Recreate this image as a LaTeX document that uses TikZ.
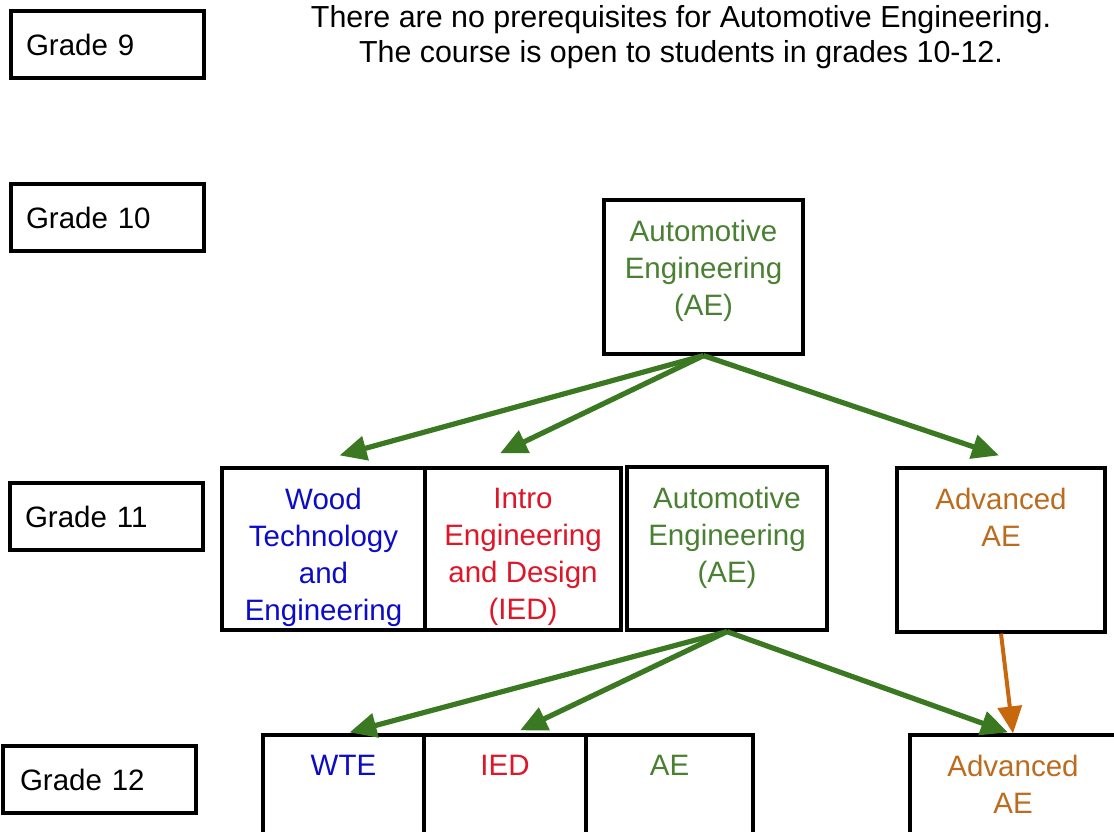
\documentclass[tikz,border=0pt]{standalone}
\usepackage{fontspec}
\setmainfont{Liberation Sans}
\usetikzlibrary{arrows.meta, positioning}
\definecolor{aegreen}{RGB}{58,120,34}
\definecolor{aetext}{RGB}{74,128,50}
\definecolor{wteblue}{RGB}{12,12,200}
\definecolor{iedred}{RGB}{222,22,40}
\definecolor{advbrown}{RGB}{188,108,30}
\definecolor{advarrow}{RGB}{200,104,14}
\tikzset{> = { Triangle[length = 27pt, width = 24pt] }}
\tikzset{
	grade/.style = {draw, line width = 3.4pt, minimum height = 67pt, text width = 163pt, inner xsep = 15pt, align = left},
	course/.style = {draw, line width = 3.2pt},
	ctext/.style = {inner sep = 0pt, outer sep = 0pt, align = center},
	flow/.style = {->, line width = 5.2pt, aegreen},
}

\begin{document}
\begin{tikzpicture}[x = 1pt, y = -1pt, font = \fontsize{29.5}{37}\selectfont]
	\useasboundingbox (0, 0) rectangle (1114, 832);
	\clip (0, 0) rectangle (1114, 832);

	% grade labels
	\node [grade] (g9) at (107.5, 44.5) {Grade 9};
	\node [grade] (g10) at (107.5, 217.5) {Grade 10};
	\node [grade] (g11) at (106.5, 516.5) {Grade 11};
	\node [grade, inner xsep = 17pt, text width = 159pt] (g12) at (99.5, 779.5) {Grade 12};

	\node [align = center, font = \fontsize{30.4}{35}\selectfont] (note) at (681, 37) {There are no prerequisites for Automotive Engineering.\\The course is open to students in grades 10-12.};

	% grade 10
	\node [course, minimum width = 199pt, minimum height = 154pt] (ae10) at (703.5, 277) {};
	\node [ctext, text = aetext, below = 22pt of ae10.north] (ae10txt) {Automotive\\Engineering\\(AE)};

	% grade 11
	\node [course, minimum width = 203pt, minimum height = 162pt] (wood) at (323.5, 549) {};
	\node [course, minimum width = 196pt, minimum height = 162pt] (ied11) at (523, 549) {};
	\node [course, minimum width = 200pt, minimum height = 163pt] (ae11) at (727, 548.5) {};
	\node [course, minimum width = 208pt, minimum height = 164pt] (adv11) at (1001, 550) {};
	\node [ctext, text = wteblue, below = 22pt of wood.north] (woodtxt) {Wood\\Technology\\and\\Engineering};
	\node [ctext, text = iedred, below = 22pt of ied11.north] (ied11txt) {Intro\\Engineering\\and Design\\(IED)};
	\node [ctext, text = aetext, below = 22pt of ae11.north] (ae11txt) {Automotive\\Engineering\\(AE)};
	\node [ctext, text = advbrown, below = 22pt of adv11.north] (adv11txt) {Advanced\\AE};

	% grade 12
	\node [course, minimum width = 161pt, minimum height = 165pt] (wte) at (343.5, 817.5) {};
	\node [course, minimum width = 162pt, minimum height = 165pt] (ied12) at (505, 817.5) {};
	\node [course, minimum width = 167pt, minimum height = 165pt] (ae12) at (669.5, 817.5) {};
	\node [course, minimum width = 206pt, minimum height = 165pt] (adv12) at (1013, 817.5) {};
	\node [ctext, text = wteblue, below = 22pt of wte.north] (wtetxt) {WTE};
	\node [ctext, text = iedred, below = 22pt of ied12.north] (ied12txt) {IED};
	\node [ctext, text = aetext, below = 22pt of ae12.north] (ae12txt) {AE};
	\node [ctext, text = advbrown, below = 22pt of adv12.north] (adv12txt) {Advanced\\AE};

	\draw [flow] (ae10.south) -- ([xshift = 16pt, yshift = 11pt] wood.north);
	\draw [flow] (ae10.south) -- ([xshift = -23pt, yshift = 13pt] ied11.north);
	\draw [flow] (ae10.south) -- ([xshift = -2pt, yshift = 11pt] adv11.north);

	\draw [flow] (ae11.south) -- ([xshift = 6pt, yshift = 1pt] wte.north);
	\draw [flow] (ae11.south) -- ([xshift = 15pt, yshift = 3pt] ied12.north);
	\draw [flow] (ae11.south) -- ([xshift = -5pt, yshift = 1pt] adv12.north);
	\draw [->, line width = 4pt, advarrow] (adv11.south) -- (adv12.north);
\end{tikzpicture}
\end{document}
